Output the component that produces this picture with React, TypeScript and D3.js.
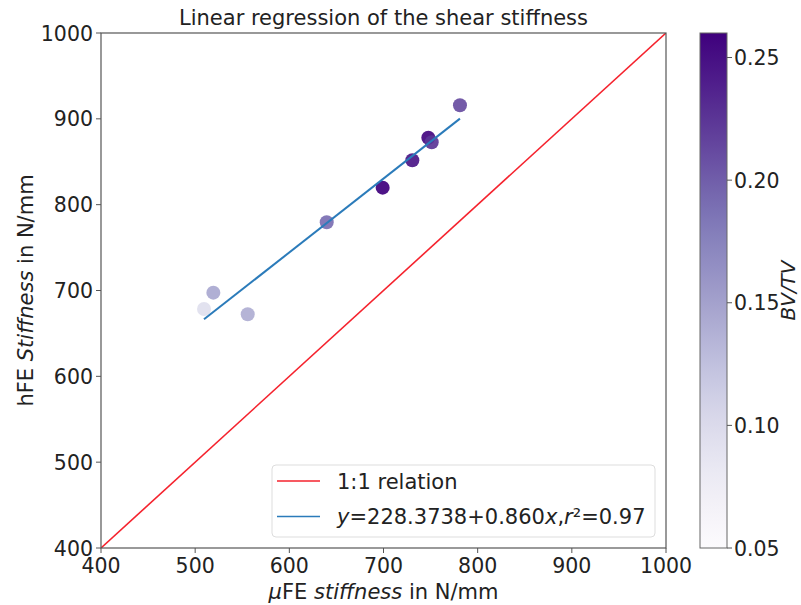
import React from "react";
import * as d3 from "d3";

const ticks = [400, 500, 600, 700, 800, 900, 1000];
const cbTicks = [0.05, 0.1, 0.15, 0.2, 0.25];
const microFE = [781.2, 747.6, 751.2, 730.6, 699.1, 639.7, 519.3, 509.4, 555.8];
const hFE = [915.8, 878.0, 872.7, 851.7, 819.8, 779.5, 697.5, 678.5, 672.3];
const bvtv = [0.21, 0.255, 0.225, 0.245, 0.26, 0.19, 0.145, 0.095, 0.14];
const intercept = 228.3738;
const slope = 0.86;

export default function App() {
  const W = 801, H = 605;
  const L = 101, R = 666, T = 33, B = 548;
  const x = d3.scaleLinear().domain([400, 1000]).range([L, R]);
  const y = d3.scaleLinear().domain([400, 1000]).range([B, T]);
  const cMin = 0.05, cMax = 0.26;
  const cNorm = d3.scaleLinear().domain([cMin, cMax]).range([0, 1]);
  const color = (v: number) => d3.interpolatePurples(cNorm(v));
  const cbX = 700, cbW = 27;
  const cy = d3.scaleLinear().domain([cMin, cMax]).range([B, T]);
  const xmin = d3.min(microFE)!, xmax = d3.max(microFE)!;
  const stops = d3.range(0, 1.0001, 0.05);
  const font = "DejaVu Sans, sans-serif";
  const fs = 20.5;
  const ls = 21;
  return (
    <svg width={W} height={H} style={{ position: "absolute", left: 0, top: 0 }} fontFamily={font}>
      <defs>
        <linearGradient id="cb" x1="0" y1="1" x2="0" y2="0">
          {stops.map((s) => (
            <stop key={s} offset={s} stopColor={d3.interpolatePurples(s)} />
          ))}
        </linearGradient>
        <clipPath id="plot">
          <rect x={L} y={T} width={R - L} height={B - T} />
        </clipPath>
      </defs>
      <rect width={W} height={H} fill="white" />
      <text x={(L + R) / 2} y={25} textAnchor="middle" fontSize={21} fill="#222">
        Linear regression of the shear stiffness
      </text>
      <g clipPath="url(#plot)">
        <line x1={x(400)} y1={y(400)} x2={x(1000)} y2={y(1000)} stroke="#f5222d" strokeWidth={1.6} />
        {microFE.map((v, i) => (
          <circle key={i} cx={x(v)} cy={y(hFE[i])} r={7} fill={color(bvtv[i])} fillOpacity={0.92} />
        ))}
        <line x1={x(xmin)} y1={y(intercept + slope * xmin)} x2={x(xmax)} y2={y(intercept + slope * xmax)} stroke="#2b7bba" strokeWidth={2} />
      </g>
      <rect x={L} y={T} width={R - L} height={B - T} fill="none" stroke="#555" strokeWidth={1.2} />
      {ticks.map((t) => (
        <g key={"x" + t}>
          <line x1={x(t)} x2={x(t)} y1={B} y2={B + 5} stroke="#555" />
          <text x={x(t)} y={B + 25} textAnchor="middle" fontSize={fs} fill="#222">{t}</text>
        </g>
      ))}
      {ticks.map((t) => (
        <g key={"y" + t}>
          <line x1={L - 5} x2={L} y1={y(t)} y2={y(t)} stroke="#555" />
          <text x={L - 8} y={y(t) + 7.5} textAnchor="end" fontSize={fs} fill="#222">{t}</text>
        </g>
      ))}
      <text x={(L + R) / 2} y={599} textAnchor="middle" fontSize={ls} fill="#222">
        <tspan fontStyle="italic">μ</tspan>FE <tspan fontStyle="italic">stiffness</tspan> in N/mm
      </text>
      <text transform={`translate(33,${(T + B) / 2}) rotate(-90)`} textAnchor="middle" fontSize={ls} fill="#222">
        hFE <tspan fontStyle="italic">Stiffness</tspan> in N/mm
      </text>
      {/* legend */}
      <rect x={272} y={465} width={383} height={72} rx={4} fill="white" fillOpacity={0.85} stroke="#ddd" />
      <line x1={277} x2={320} y1={481} y2={481} stroke="#f5222d" strokeWidth={1.6} />
      <text x={337} y={488.5} fontSize={ls} fill="#222">1:1 relation</text>
      <line x1={277} x2={320} y1={516.5} y2={516.5} stroke="#2b7bba" strokeWidth={1.6} />
      <text x={337} y={524} fontSize={ls} fill="#222">
        <tspan fontStyle="italic">y</tspan>=228.3738+0.860<tspan fontStyle="italic">x</tspan>,<tspan fontStyle="italic">r</tspan>²=0.97
      </text>
      {/* colorbar */}
      <rect x={cbX} y={T} width={cbW} height={B - T} fill="url(#cb)" stroke="#666" strokeWidth={1} />
      {cbTicks.map((t) => (
        <g key={"c" + t}>
          <line x1={cbX + cbW} x2={cbX + cbW + 5} y1={cy(t)} y2={cy(t)} stroke="#555" />
          <text x={cbX + cbW + 7} y={cy(t) + 7.5} fontSize={fs} fill="#222">{t.toFixed(2)}</text>
        </g>
      ))}
      <text transform={`translate(795,${(T + B) / 2}) rotate(-90)`} textAnchor="middle" fontSize={20} fontStyle="italic" fill="#222">
        BV/TV
      </text>
    </svg>
  );
}
